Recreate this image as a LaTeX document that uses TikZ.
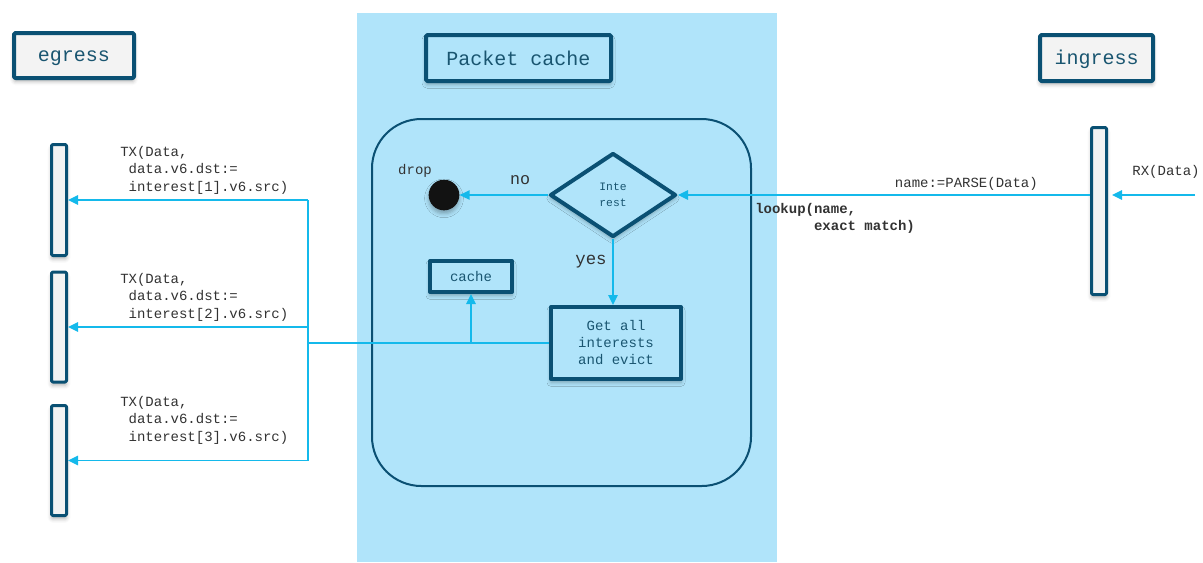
\documentclass[tikz,border=0pt]{standalone}
\usepackage{fontspec}
\setmonofont{Liberation Mono}
\usetikzlibrary{arrows.meta,shapes.geometric,shadows.blur}
\definecolor{cachebg}{RGB}{176,228,250}
\definecolor{edge}{RGB}{10,80,115}
\definecolor{boxtext}{RGB}{25,85,112}
\definecolor{flowline}{RGB}{20,185,235}
\definecolor{msgtext}{RGB}{50,50,50}
\definecolor{barfill}{RGB}{243,243,243}
\tikzset{
  boxshadow/.style={blur shadow={shadow xshift=0pt,shadow yshift=-2.5pt,shadow blur radius=3pt,shadow opacity=30}},
  headbox/.style={draw=edge,line width=3pt,fill=barfill,rounded corners=1pt,inner sep=0pt,
    font=\ttfamily\fontsize{15}{18}\selectfont,text=boxtext,boxshadow},
  lifeline/.style={draw=edge,line width=2.25pt,fill=barfill,rounded corners=1pt,inner sep=0pt,
    minimum width=11.25pt,boxshadow},
  actbox/.style={draw=edge,line width=3pt,fill=cachebg,inner sep=0pt,align=center,
    font=\ttfamily\fontsize{10.5}{12.75}\selectfont,text=boxtext,boxshadow},
  flow/.style={draw=flowline,line width=1.2pt},
  msg/.style={inner sep=0pt,align=left,text=msgtext,font=\ttfamily\fontsize{10.5}{13}\selectfont}
}
\begin{document}
\begin{tikzpicture}[x=0.75pt,y=-0.75pt,>={Triangle[length=7.5pt,width=7pt]},line join=round]
  \useasboundingbox (0,0) rectangle (1203,562);
  % packet cache lane
  \fill[cachebg] (357,13) rectangle (777,562);
  \draw[edge,line width=1.5pt,rounded corners=37pt] (372,119) rectangle (751,486);

  % headers
  \node[headbox,text height=9pt,text depth=0pt,minimum width=90pt,minimum height=33.75pt] (egress) at (74,55.5) {egress};
  \node[headbox,fill=cachebg,minimum width=138.75pt,minimum height=34.5pt] (pktcache) at (518.5,58) {Packet cache};
  \node[headbox,text height=9pt,text depth=0pt,minimum width=84.75pt,minimum height=34.5pt] (ingress) at (1096.5,58) {ingress};

  % lifelines
  \node[lifeline,minimum height=83.25pt] (tx1) at (59,200) {};
  \node[lifeline,minimum height=82.5pt] (tx2) at (59,327) {};
  \node[lifeline,minimum height=82.5pt] (tx3) at (59,460.5) {};
  \node[lifeline,minimum height=125.25pt] (rx) at (1099,211) {};

  % activity inside the cache
  \node[diamond,draw=edge,line width=3pt,fill=cachebg,inner sep=0pt,aspect=1.5,
    minimum width=94.5pt,minimum height=63pt,align=center,text=boxtext,
    font=\ttfamily\fontsize{8.5}{12}\selectfont,boxshadow] (interest) at (613,195) {Inte\\rest};
  \node[circle,fill=black!93,minimum size=23pt,inner sep=0pt,boxshadow] (drop) at (444,195) {};
  \node[actbox,minimum width=61.5pt,minimum height=23.25pt] (cache) at (471,276.5) {cache};
  \node[actbox,minimum width=97.5pt,minimum height=54pt] (evict) at (616,343) {Get all\\interests\\and evict};

  \node[msg] (droplbl) at (415,171) {drop};
  \node[msg,font=\ttfamily\fontsize{12.5}{14}\selectfont] (nolbl) at (520,180) {no};
  \node[msg,font=\ttfamily\fontsize{13}{15}\selectfont] (yeslbl) at (591,262) {yes};

  % receive side
  \coordinate (rxin) at (1195,195);
  \draw[flow,->,shorten >=3pt] (rxin) -- (rx.east |- rxin);
  \node[msg] (rxlbl) at (1166,172) {RX(Data)};
  \draw[flow,->] (rx.west |- interest.east) -- node[msg,pos=0.3,above=3pt] (parse) {name:=PARSE(Data)} (interest.east);
  \node[msg,font=\ttfamily\bfseries\fontsize{10.5}{13}\selectfont,anchor=north west] (lookup) at (755,203)
    {lookup(name,\\\phantom{xxxxxxx}exact match)};

  \draw[flow,->] (interest.west) -- (drop.east);
  \draw[flow,->] (interest.south) -- (interest.south |- evict.north);

  % transmit side
  \coordinate (trunk) at (308,344);
  \draw[flow] (evict.west) -- (trunk |- evict.west);
  \draw[flow] (trunk |- tx1.east) -- (trunk |- tx3.east);
  \draw[flow,->] (cache.south |- evict.west) -- (cache.south);
  \foreach \t/\y in {1/146,2/273,3/396}{
    \draw[flow,->] (trunk |- tx\t.east) -- (tx\t.east);
    \node[msg,anchor=north west] (txmsg\t) at (120,\y)
      {TX(Data,\\\phantom{x}data.v6.dst:=\\\phantom{x}interest[\t].v6.src)};
  }
\end{tikzpicture}
\end{document}
